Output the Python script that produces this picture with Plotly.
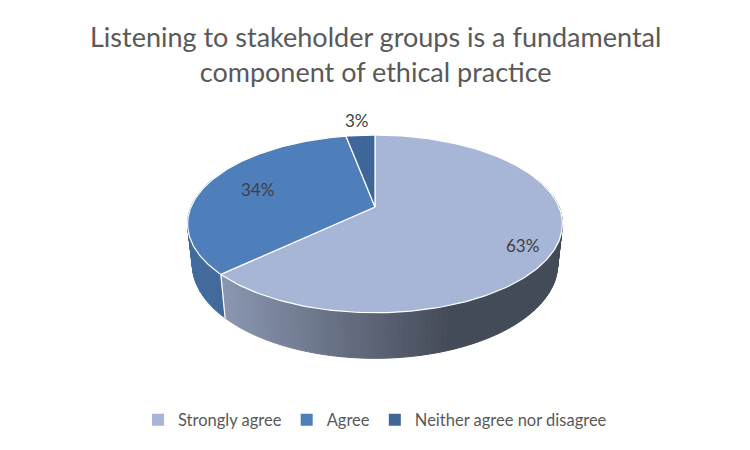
import numpy as np
import plotly.graph_objects as go

# ---- data ----
title_lines = ["Listening to stakeholder groups is a fundamental", "component of ethical practice"]
categories = ["Strongly agree", "Agree", "Neither agree nor disagree"]
values = [63, 34, 3]
top_colors = ["#A7B6D6", "#4E7FBA", "#3E6699"]
label_radius = [0.82, 0.7, 1.25]
label_yshift = [-9, 0, 0]

# ---- 3D pie projection (perspective) ----
W, H = 750, 450
cx, cy = 375.0, 207.0
D = 4.66
F = 184.0 * D
sa = 0.4655
ca = float(np.sqrt(1 - sa * sa))
thick = 0.25


def proj(X, Y, Z):
    X = np.asarray(X, float); Y = np.asarray(Y, float); Z = np.asarray(Z, float)
    d = D + Y * ca - Z * sa
    V = Y * sa + Z * ca
    return cx + F * X / d, cy - F * V / d


def hex_rgb(h):
    h = h.lstrip("#")
    return np.array([int(h[i:i + 2], 16) for i in (0, 2, 4)], float)


def rgb_str(c):
    c = np.clip(c, 0, 255)
    return "rgb(%d,%d,%d)" % tuple(int(round(v)) for v in c)


total = float(sum(values))
fracs = [v / total for v in values]
bounds = np.concatenate([[0.0], np.cumsum(fracs) * 360.0])

fig = go.Figure()

# side wall quads
quads = []
for i in range(len(values)):
    a0, a1 = bounds[i], bounds[i + 1]
    n = max(2, int(np.ceil((a1 - a0) / 1.5)))
    th = np.linspace(a0, a1, n + 1)
    for k in range(n):
        t0, t1 = np.radians(th[k]), np.radians(th[k + 1])
        Ym = (np.cos(t0) + np.cos(t1)) / 2
        if Ym > 0.35:
            continue
        Xs = [np.sin(t0), np.sin(t1), np.sin(t1), np.sin(t0), np.sin(t0)]
        Ys = [np.cos(t0), np.cos(t1), np.cos(t1), np.cos(t0), np.cos(t0)]
        Zs = [0, 0, -thick, -thick, 0]
        px, py = proj(Xs, Ys, Zs)
        xm = px[:2].mean()
        t = np.clip((xm - 215.0) / 235.0, 0, 1)
        L = 0.84 - 0.43 * t
        col = rgb_str(hex_rgb(top_colors[i]) * L)
        quads.append((Ym, px, py, col))

quads.sort(key=lambda q: -q[0])
for _, px, py, col in quads:
    fig.add_trace(go.Scatter(x=px, y=py, mode="lines", fill="toself", fillcolor=col,
                             line=dict(color=col, width=1), hoverinfo="skip", showlegend=False))

# white vertical edges at slice boundaries on the visible side
for b in bounds[:-1]:
    t = np.radians(b)
    if np.cos(t) < -0.05:
        px, py = proj([np.sin(t)] * 2, [np.cos(t)] * 2, [0, -thick])
        fig.add_trace(go.Scatter(x=px, y=py, mode="lines", line=dict(color="white", width=1.2),
                                 hoverinfo="skip", showlegend=False))

# top faces
for i in range(len(values)):
    a0, a1 = bounds[i], bounds[i + 1]
    th = np.radians(np.linspace(a0, a1, max(3, int(np.ceil((a1 - a0) / 1.0)) + 1)))
    Xs = np.concatenate([[0], np.sin(th), [0]])
    Ys = np.concatenate([[0], np.cos(th), [0]])
    px, py = proj(Xs, Ys, np.zeros_like(Xs))
    fig.add_trace(go.Scatter(x=px, y=py, mode="lines", fill="toself", fillcolor=top_colors[i],
                             line=dict(color="white", width=1.2), hoverinfo="skip", showlegend=False))

# data labels
for i in range(len(values)):
    mid = np.radians((bounds[i] + bounds[i + 1]) / 2)
    r = label_radius[i]
    px, py = proj([r * np.sin(mid)], [r * np.cos(mid)], [0])
    fig.add_annotation(x=px[0], y=py[0], yshift=label_yshift[i],
                       text="%d%%" % round(fracs[i] * 100), showarrow=False,
                       font=dict(family="Lato, Open Sans, sans-serif", size=17, color="#404040"))

# legend entries
for i, c in enumerate(categories):
    fig.add_trace(go.Scatter(x=[None], y=[None], mode="markers", name=c,
                             marker=dict(symbol="square", size=8, color=top_colors[i])))

fig.add_annotation(x=0.5, y=1 - 18 / H, xref="paper", yref="paper", yanchor="top",
                   text="<br>".join(title_lines), showarrow=False,
                   font=dict(family="Lato, Open Sans, sans-serif", size=27, color="#595959"))

fig.update_layout(
    width=W, height=H,
    margin=dict(l=0, r=0, t=0, b=0),
    paper_bgcolor="white", plot_bgcolor="white",
    xaxis=dict(range=[0, W], visible=False, fixedrange=True),
    yaxis=dict(range=[H, 0], visible=False, fixedrange=True),
    legend=dict(orientation="h", x=0.5, xanchor="center", y=1 - 420 / H, yanchor="middle",
                font=dict(family="Lato, Open Sans, sans-serif", size=16.5, color="#595959"),
                itemsizing="constant", itemwidth=30),
    showlegend=True,
)

fig.write_html("out.html", config={"displayModeBar": False},
               post_script="document.body.style.margin='0px';")
